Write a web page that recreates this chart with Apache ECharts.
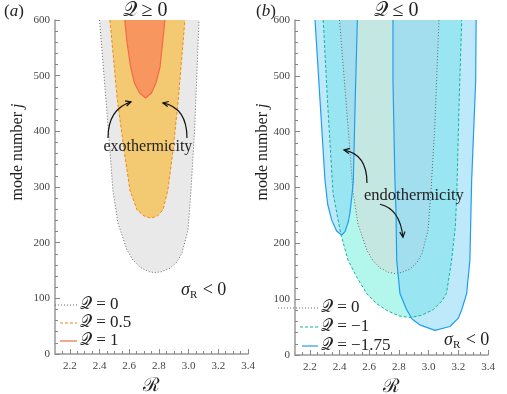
<!DOCTYPE html>
<html>
<head>
<meta charset="utf-8">
<script src="https://cdn.jsdelivr.net/npm/echarts@6/dist/echarts.min.js"></script>
<style>
  html, body { margin: 0; padding: 0; background: #fff; }
  #main { width: 507px; height: 394px; }
</style>
</head>
<body>
<div id="main"></div>
<script>
// tick labels
const xTicks = [2.2, 2.4, 2.6, 2.8, 3.0, 3.2, 3.4];
const xMinorTicks = [2.15, 2.25, 2.3, 2.35, 2.45, 2.5, 2.55, 2.65, 2.7, 2.75, 2.85, 2.9, 2.95,
  3.05, 3.1, 3.15, 3.25, 3.3, 3.35];

// contour boundaries [R, j]
const q0 = [[2.40, 600], [2.43, 500], [2.46, 400], [2.49, 294], [2.524, 235], [2.585, 187], [2.625, 169],
  [2.672, 156], [2.73, 148], [2.773, 146], [2.82, 148], [2.874, 154], [2.92, 165], [2.955, 181],
  [2.996, 223], [3.016, 294], [3.04, 400], [3.055, 500], [3.07, 600]];
const q05 = [[2.47, 600], [2.52, 456], [2.565, 366], [2.605, 294], [2.652, 259], [2.70, 248], [2.745, 244],
  [2.79, 248], [2.827, 259], [2.86, 294], [2.895, 366], [2.93, 456], [2.975, 600]];
const q1 = [[2.57, 600], [2.585, 560], [2.61, 515], [2.635, 487], [2.67, 469], [2.71, 460], [2.75, 469],
  [2.78, 487], [2.807, 515], [2.825, 560], [2.84, 600]];
const qm1 = [[2.29, 600], [2.32, 450], [2.356, 290], [2.41, 215], [2.457, 170], [2.515, 140], [2.583, 110],
  [2.65, 92], [2.717, 80], [2.80, 70], [2.874, 67], [2.95, 71], [3.03, 81], [3.09, 97], [3.12, 110],
  [3.155, 170], [3.18, 230], [3.19, 290], [3.205, 450], [3.223, 600]];
const qm175Left = [[2.235, 600], [2.27, 450], [2.302, 313], [2.32, 270], [2.347, 242], [2.38, 222],
  [2.414, 215], [2.437, 221], [2.46, 240], [2.47, 254], [2.485, 290], [2.493, 313], [2.505, 450], [2.52, 600]];
const qm175Right = [[2.76, 600], [2.76, 490], [2.773, 313], [2.78, 260], [2.785, 170], [2.807, 110],
  [2.852, 81], [2.89, 64], [2.94, 54], [3.043, 44], [3.144, 51], [3.2, 66], [3.223, 81], [3.256, 110],
  [3.278, 170], [3.29, 313], [3.317, 491], [3.32, 600]];

const SERIF = '"Liberation Serif", "DejaVu Serif"';

const chart = echarts.init(document.getElementById('main'));

function fillSeries(pts, g, color, opacity) {
  return {
    type: 'custom', xAxisIndex: g * 2, yAxisIndex: g, silent: true,
    data: [[2.5, 300]],
    renderItem: function (params, api) {
      return {
        type: 'polygon',
        shape: { points: pts.map(p => api.coord(p)) },
        style: { fill: color, opacity: opacity }
      };
    }
  };
}
function lineSeries(pts, g, color, dash, width) {
  return {
    type: 'line', xAxisIndex: g * 2, yAxisIndex: g, silent: true,
    data: pts, showSymbol: false, animation: false,
    lineStyle: { color: color, width: width || 1, type: dash || 'solid' }
  };
}

function xAxes(g) {
  const base = {
    gridIndex: g, type: 'value', min: 2.1, max: 3.4, position: 'bottom',
    splitLine: { show: false }
  };
  return [
    Object.assign({}, base, {
      name: 'ℛ', nameLocation: 'middle', nameGap: 22,
      nameTextStyle: { fontFamily: 'DejaVu Serif', fontSize: 19, color: '#222' },
      axisLine: { lineStyle: { color: '#999', width: 1.5 } },
      axisTick: { inside: true, length: 5, customValues: xTicks, lineStyle: { color: '#888' } },
      axisLabel: { customValues: xTicks, fontFamily: 'Liberation Serif', fontSize: 11, color: '#444', margin: 7,
        formatter: v => v.toFixed(1) }
    }),
    Object.assign({}, base, {
      axisLine: { show: false },
      axisTick: { inside: true, length: 3, customValues: xMinorTicks, lineStyle: { color: '#888' } },
      axisLabel: { show: false }
    })
  ];
}
function yAxis(g) {
  return {
    gridIndex: g, type: 'value', min: 0, max: 600, interval: 100,
    splitLine: { show: false },
    axisLine: { show: true, lineStyle: { color: '#999', width: 1.5 } },
    axisTick: { inside: true, length: 5, lineStyle: { color: '#888' } },
    minorTick: { show: true, splitNumber: 5, length: 3, lineStyle: { color: '#888' } },
    axisLabel: { fontFamily: 'Liberation Serif', fontSize: 11, color: '#444', margin: 5 }
  };
}

chart.setOption({
  animation: false,
  grid: [
    { left: 55, right: 259, top: 20, bottom: 40, outerBoundsMode: 'none' },
    { left: 295, right: 19, top: 20, bottom: 39, outerBoundsMode: 'none' }
  ],
  xAxis: xAxes(0).concat(xAxes(1)),
  yAxis: [yAxis(0), yAxis(1)],
  series: [
    fillSeries(q0, 0, '#e9e9e9', 1),
    fillSeries(q05, 0, '#f3c971', 1),
    fillSeries(q1, 0, '#f7965f', 1),
    lineSeries(q0, 0, '#666', [1, 2]),
    lineSeries(q05, 0, '#f08a10', [3, 2]),
    lineSeries(q1, 0, '#f4694a', 'solid', 1.2),

    fillSeries(qm1, 1, '#b3f7ec', 1),
    fillSeries(q0, 1, '#d8d8d8', 0.5),
    fillSeries(qm175Left, 1, 'rgb(131,213,247)', 0.53),
    fillSeries(qm175Right, 1, 'rgb(131,213,247)', 0.53),
    lineSeries(q0, 1, '#666', [1, 2]),
    lineSeries(qm1, 1, '#12b39b', [3, 2]),
    lineSeries(qm175Left, 1, '#1e9ef0', 'solid', 1.2),
    lineSeries(qm175Right, 1, '#1e9ef0', 'solid', 1.2)
  ]
});

// annotations, placed in data coordinates
const Z = 100;
function px(g, p) { return chart.convertToPixel({ gridIndex: g }, p); }
function arrow(g, from, ctrl, to) {
  const a = px(g, from), c = px(g, ctrl), b = px(g, to);
  const ang = Math.atan2(b[1] - c[1], b[0] - c[0]);
  const s = 6, w = 0.45;
  return [
    { type: 'bezierCurve', z: Z, shape: { x1: a[0], y1: a[1], cpx1: c[0], cpy1: c[1], x2: b[0], y2: b[1] },
      style: { stroke: '#111', lineWidth: 1.2, fill: null } },
    { type: 'polyline', z: Z, shape: { points: [
        [b[0] - s * Math.cos(ang - w), b[1] - s * Math.sin(ang - w)], b,
        [b[0] - s * Math.cos(ang + w), b[1] - s * Math.sin(ang + w)]] },
      style: { stroke: '#111', lineWidth: 1.2, fill: null } }
  ];
}
function label(x, y, text, size, align) {
  return { type: 'text', z: Z, x: x, y: y, style: { text: text, font: size + 'px ' + SERIF,
    fill: '#222', align: align || 'center', verticalAlign: 'middle' } };
}
function panelTag(x, y, letter) {
  return { type: 'text', z: Z, x: x, y: y, style: { text: '{p|(}{l|' + letter + '}{p|)}',
    align: 'left', verticalAlign: 'middle',
    rich: { p: { fontFamily: 'Liberation Serif', fontSize: 17, fill: '#222' },
      l: { fontFamily: 'Liberation Serif', fontSize: 17, fontStyle: 'italic', fill: '#222' } } } };
}
function yName(x, y) {
  return { type: 'text', z: Z, x: x, y: y, rotation: Math.PI / 2, style: {
    text: '{t|mode number }{j|j}', align: 'center', verticalAlign: 'middle',
    rich: { t: { fontFamily: 'Liberation Serif', fontSize: 16, fill: '#222' },
      j: { fontFamily: 'Liberation Serif', fontSize: 16, fontStyle: 'italic', fill: '#222' } } } };
}
// entries: [text, color, dash, lineStart]
function legend(lineEnd, y, step, entries) {
  const out = [];
  entries.forEach((e, i) => {
    const yy = y + i * step;
    out.push({ type: 'line', z: Z, shape: { x1: e[3], y1: yy, x2: lineEnd, y2: yy },
      style: { stroke: e[1], lineWidth: 1.2, lineDash: e[2], fill: null } });
    out.push({ type: 'text', z: Z, x: lineEnd + 3, y: yy, style: { text: e[0], font: '17px ' + SERIF,
      fill: '#222', align: 'left', verticalAlign: 'middle' } });
  });
  return out;
}
function sigma(x, y) {
  return { type: 'text', z: Z, x: x, y: y, style: {
    text: '{s|σ}{r|R}{t| < 0}', align: 'left', verticalAlign: 'middle',
    rich: { s: { fontFamily: 'Liberation Serif', fontStyle: 'italic', fontSize: 18, fill: '#222' },
      r: { fontFamily: 'Liberation Serif', fontSize: 11, fill: '#222', padding: [10, 1, 0, 0] },
      t: { fontFamily: 'Liberation Serif', fontSize: 18, fill: '#222' } } } };
}

const exo = px(0, [2.726, 372]);
const endo = px(1, [2.901, 285]);
chart.setOption({
  graphic: [].concat(
    label(145, 11, '𝒬 ≥ 0', 20),
    label(396, 11, '𝒬 ≤ 0', 20),
    panelTag(4, 12, 'a'),
    panelTag(256, 12, 'b'),
    yName(18, 152),
    yName(263, 152),
    label(exo[0], exo[1], 'exothermicity', 16),
    arrow(0, [2.457, 388], [2.457, 440], [2.612, 453]),
    arrow(0, [2.989, 388], [2.989, 442], [2.827, 451]),
    label(endo[0], endo[1], 'endothermicity', 16.5),
    arrow(1, [2.585, 308], [2.585, 360], [2.43, 367]),
    arrow(1, [2.672, 270], [2.807, 262], [2.827, 211]),
    legend(77, 305, 18, [['𝒬 = 0', '#666', [1, 2], 55], ['𝒬 = 0.5', '#f08a10', [3, 2], 60],
      ['𝒬 = 1', '#f4694a', null, 60]]),
    legend(318, 308, 19, [['𝒬 = 0', '#666', [1, 2], 278], ['𝒬 = −1', '#12b39b', [3, 2], 300],
      ['𝒬 = −1.75', '#1e9ef0', null, 302]]),
    sigma(181, 290),
    sigma(444, 340)
  )
});
</script>
</body>
</html>
